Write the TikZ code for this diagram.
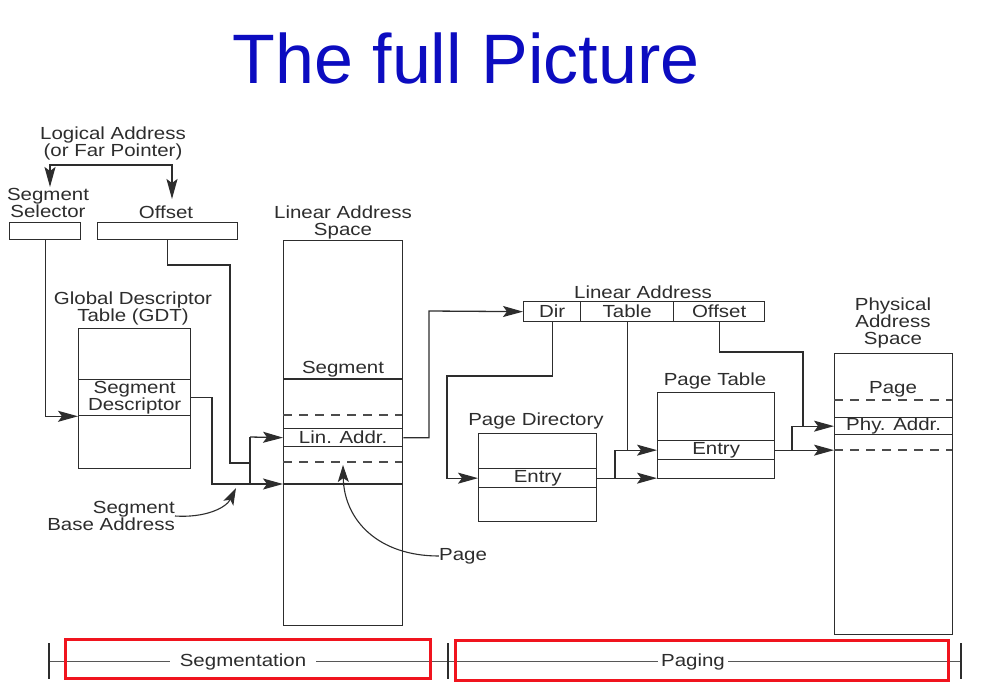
\documentclass[tikz,border=0pt]{standalone}
\usepackage{fontspec}
\setmainfont[FakeStretch=1.17]{Liberation Sans}
\newfontfamily\titlefont{Liberation Sans}
\usetikzlibrary{arrows.meta}
\definecolor{ink}{RGB}{45,45,45}
\definecolor{titleblue}{RGB}{12,12,192}
\definecolor{framered}{RGB}{240,20,30}

\begin{document}
\begin{tikzpicture}[x=1pt,y=-1pt,
  every node/.style={font=\fontsize{17.5}{17}\selectfont, text=ink, inner sep=0pt},
  line/.style={draw=ink, line width=1.3pt},
  box/.style={line, rectangle, anchor=north west, inner sep=0pt},
  arr/.style={line, -{Stealth[length=20pt,width=11pt,inset=4pt]}},
  thinarr/.style={draw=ink, line width=1.1pt, -{Stealth[length=17pt,width=11pt,inset=4pt]}},
  dashrow/.style={draw=ink!85, line width=1.1pt, dash pattern=on 9pt off 7pt},
  lbl/.style={align=center},
  phase/.style={draw=framered, line width=3pt},
]
% canvas
\fill[white] (0,0) rectangle (989,697);
\useasboundingbox (0,0) rectangle (989,697);

% heading
\node[anchor=base, font=\titlefont\fontsize{70}{70}\selectfont, text=titleblue] (title) at (466,83) {The full Picture};

% ---------- logical address ----------
\node[lbl] (logical) at (113,143.5) {Logical Address\\(or Far Pointer)};
\node[lbl] (selLabel) at (48,203) {Segment\\Selector};
\node (offLabel) at (166,212) {Offset};
\node[box, minimum width=71pt, minimum height=17pt] (sel) at (9,222) {};
\node[box, minimum width=140pt, minimum height=17pt] (off) at (97,222) {};
\coordinate (split) at (113,165);
\coordinate (selIn) at (50,187);
\coordinate (offIn) at (172,199);
\draw[arr] (split) -| (selIn);
\draw[arr] (split) -| (offIn);

% ---------- global descriptor table ----------
\node[lbl] (gdtLabel) at (133,308) {Global Descriptor\\Table (GDT)};
\node[box, minimum width=112pt, minimum height=140pt] (gdt) at (78,328) {};
\node[box, minimum width=112pt, minimum height=36pt, align=center] (gdtdesc) at (78,379) {Segment\\Descriptor};

% ---------- linear address space ----------
\node[lbl] (linLabel) at (343,222) {Linear Address\\Space};
\node[box, minimum width=119pt, minimum height=385pt] (lin) at (283,240) {};
\node (segLabel) at (343,369) {Segment};
\draw[line] (283,379) -- (402,379);
\draw[dashrow] (283,415) -- (402,415);
\node[box, minimum width=119pt, minimum height=18pt] (linaddr) at (283,428) {Lin. Addr.};
\draw[dashrow] (283,462) -- (402,462);
\draw[line] (283,484) -- (402,484);
\coordinate (linbase) at (283,484);

% segment selector -> descriptor
\draw[arr] (sel.south) |- (gdtdesc.south west);
% offset + base -> linear address
\coordinate (offTurn) at (230,265);
\coordinate (addMid) at (250,463);
\coordinate (addTop) at (250,437);
\coordinate (addBot) at (250,484);
\coordinate (descTurn) at (212,484);
\draw[line] (off.south) |- (offTurn) |- (addMid);
\draw[line] (addTop) -- (addBot);
\draw[arr] (addTop) -- (linaddr.west);
\draw[arr] (gdtdesc.east) -| (descTurn) -- (linbase);

% base address note
\node[lbl, align=right, anchor=east] (baseLabel) at (175,516) {Segment\\Base Address};
\coordinate (baseTip) at (236,488);
\draw[thinarr] (baseLabel.east) .. controls (205,518) and (226,508) .. (baseTip);

% page note
\node (pageNote) at (463,556) {Page};
\coordinate (pageTip) at (343,465);
\draw[thinarr] (pageNote.west) .. controls (378,556) and (344,520) .. (pageTip);

% ---------- linear address fields ----------
\node (laLabel) at (643,292) {Linear Address};
\node[box, minimum width=57pt, minimum height=20pt] (dir) at (523,301) {Dir};
\node[box, minimum width=93pt, minimum height=20pt] (tbl) at (580,301) {Table};
\node[box, minimum width=91pt, minimum height=20pt] (ofs) at (673,301) {Offset};
\coordinate (laTurn) at (429,311);
\draw[arr] (linaddr.east) -| (laTurn) -- (dir.west);

% ---------- page directory ----------
\node (pdLabel) at (536,421) {Page Directory};
\node[box, minimum width=118pt, minimum height=88pt] (pd) at (478,433) {};
\node[box, minimum width=118pt, minimum height=19pt] (pdentry) at (478,468) {Entry};
\coordinate (dirTurn) at (447,376);
\draw[arr] (dir.south) |- (dirTurn) |- (pdentry.west);

% ---------- page table ----------
\node (ptLabel) at (715,381) {Page Table};
\node[box, minimum width=117pt, minimum height=86pt] (pt) at (657,392) {};
\node[box, minimum width=117pt, minimum height=19pt] (ptentry) at (657,440) {Entry};
\coordinate (pdj) at (615,477.5);
\draw[line] (tbl.south) -- (tbl.south |- ptentry.west);
\draw[arr] (pdentry.east) -- (pdentry.east -| pt.west);
\draw[arr] (pdj) |- (ptentry.west);

% ---------- physical address space ----------
\node[lbl] (physLabel) at (893,323) {Physical\\Address\\Space};
\node[box, minimum width=118pt, minimum height=281pt] (phys) at (834,353) {};
\node (pageLabel) at (893,389) {Page};
\draw[dashrow] (834,400) -- (952,400);
\node[box, minimum width=118pt, minimum height=17pt] (phyaddr) at (834,417) {Phy. Addr.};
\draw[dashrow] (834,450) -- (952,450);
\coordinate (ofsTurn) at (803,352);
\coordinate (ptj) at (792,449.5);
\draw[line] (ofs.south) |- (ofsTurn) -- (ofsTurn |- phyaddr.west);
\draw[arr] (ptentry.east) -- (ptentry.east -| phys.west);
\draw[arr] (ptj) |- (phyaddr.west);

% ---------- phase scale ----------
\coordinate (scaleL) at (49,661);
\coordinate (scaleM) at (448,661);
\coordinate (scaleR) at (961,661);
\draw[draw=ink!80, line width=1pt] (scaleL) -- (scaleR);
\foreach \t in {scaleL,scaleM,scaleR}
  \draw[draw=ink, line width=1.2pt] ([yshift=18pt]\t) -- ([yshift=-18pt]\t);
\node[fill=white, inner xsep=10pt, inner ysep=2pt] (segText) at (243,662) {Segmentation};
\node[fill=white, inner xsep=3pt, inner ysep=2pt] (pagText) at (693,662) {Paging};
\draw[phase] (65,639) rectangle (430,678);
\draw[phase] (455,640) rectangle (948,680);
\end{tikzpicture}
\end{document}
